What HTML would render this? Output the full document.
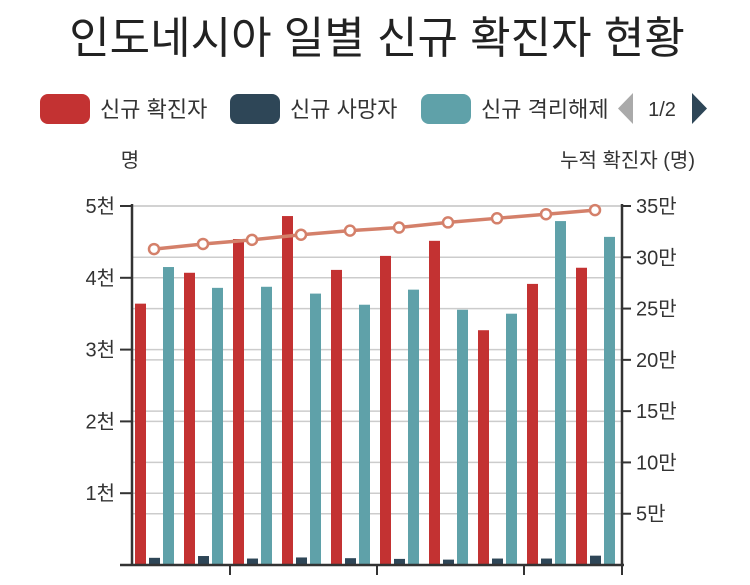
<!DOCTYPE html>
<html><head><meta charset="utf-8">
<style>
body{margin:0;background:#fff;width:750px;height:580px;overflow:hidden;font-family:"Liberation Sans","Noto Sans CJK KR",sans-serif;}
</style></head>
<body>
<svg width="750" height="580" xmlns="http://www.w3.org/2000/svg" font-family="'Liberation Sans','Noto Sans CJK KR',sans-serif">
<text x="377" y="53" text-anchor="middle" font-size="44" font-weight="400" fill="#222">인도네시아 일별 신규 확진자 현황</text>
<g>
<rect x="40" y="94" width="50" height="30" rx="8" fill="#c33232"/>
<text x="100" y="117" font-size="22" fill="#333">신규 확진자</text>
<rect x="230" y="94" width="50" height="30" rx="8" fill="#2e4657"/>
<text x="290" y="117" font-size="22" fill="#333">신규 사망자</text>
<rect x="421" y="94" width="50" height="30" rx="8" fill="#5fa1a9"/>
<svg x="0" y="0" width="614" height="200"><text x="481" y="117" font-size="22" fill="#333">신규 격리해제</text></svg>
<polygon points="633,93 633,124 618,108.5" fill="#aaa"/>
<text x="662" y="116" text-anchor="middle" font-size="20" fill="#333">1/2</text>
<polygon points="692,93 692,124 707,108.5" fill="#2e4657"/>
</g>
<text x="130" y="167" text-anchor="middle" font-size="20" fill="#333">명</text>
<text x="695" y="167" text-anchor="end" font-size="20" fill="#333">누적 확진자 (명)</text>
<g id="plot"></g>
</svg>
<script>
const categories=["d1","d2","d3","d4","d5","d6","d7","d8","d9","d10"];
const newCases=[3640,4070,4540,4860,4110,4305,4515,3270,3915,4140];
const newDeaths=[100,125,90,105,95,85,75,90,90,130];
const recovered=[4150,3860,3875,3780,3625,3835,3555,3500,4790,4570];
const cumulative=[308000,313000,317000,322000,326000,329000,334000,338000,342000,346000];
const leftTicks=[1000,2000,3000,4000,5000];
const leftTickLabels=["1천","2천","3천","4천","5천"];
const rightTicks=[50000,100000,150000,200000,250000,300000,350000];
const rightTickLabels=["5만","10만","15만","20만","25만","30만","35만"];
const NS="http://www.w3.org/2000/svg";
const X0=132,X1=622,Y0=565,Y1=206;
const gw=(X1-X0)/categories.length;
const yL=v=>Y0-(v/5000)*(Y0-Y1);
const yR=v=>Y0-(v/350000)*(Y0-Y1);
const g=document.getElementById('plot');
function mk(t,a){const e=document.createElementNS(NS,t);for(const k in a)e.setAttribute(k,a[k]);g.appendChild(e);return e;}
leftTicks.forEach((v,i)=>{
 const l=mk('line',{x1:X0,x2:X1,y1:yL(v),y2:yL(v),stroke:'#ccc','stroke-width':1.5});
 
 
 const t=mk('line',{x1:X0-12,x2:X0,y1:yL(v),y2:yL(v),stroke:'#333','stroke-width':2});
 
 
 const tx=mk('text',{x:X0-17,y:yL(v)+7,'text-anchor':'end','font-size':20,fill:'#333'});
 tx.textContent=leftTickLabels[i];
 
 
});
rightTicks.forEach((v,i)=>{
 const l=mk('line',{x1:X0,x2:X1,y1:yR(v),y2:yR(v),stroke:'#ccc','stroke-width':1.5});
 
 
 const t=mk('line',{x1:X1,x2:X1+9,y1:yR(v),y2:yR(v),stroke:'#333','stroke-width':2});
 
 
 const tx=mk('text',{x:X1+14,y:yR(v)+7,'font-size':20,fill:'#333'});
 tx.textContent=rightTickLabels[i];
 
 
});
categories.forEach((c,i)=>{
 const gx=X0+i*gw;
 const r=mk('rect',{x:gx+3,y:yL(newCases[i]),width:11,height:Y0-yL(newCases[i]),fill:'#c33232'});
 
 
 const d=mk('rect',{x:gx+17,y:yL(newDeaths[i]),width:11,height:Y0-yL(newDeaths[i]),fill:'#2e4657'});
 
 
 const t=mk('rect',{x:gx+31,y:yL(recovered[i]),width:11,height:Y0-yL(recovered[i]),fill:'#5fa1a9'});
 
 
});
const pts=cumulative.map((v,i)=>(X0+i*gw+22)+','+yR(v)).join(' ');
const pl=mk('polyline',{points:pts,fill:'none',stroke:'#d4806a','stroke-width':3.5});


cumulative.forEach((v,i)=>{
 const p=mk('circle',{cx:X0+i*gw+22,cy:yR(v),r:5,fill:'#fff',stroke:'#d4806a','stroke-width':2.5});
 
 
});
const al=mk('line',{x1:X0,x2:X0,y1:Y1-2,y2:Y0,stroke:'#333','stroke-width':2.5});


const ar=mk('line',{x1:X1,x2:X1,y1:Y1-2,y2:Y0,stroke:'#333','stroke-width':2.5});


const ax=mk('line',{x1:X0-12,x2:X1+2,y1:Y0,y2:Y0,stroke:'#333','stroke-width':2.5});


[2,5,8,10].forEach(k=>{
 const t=mk('line',{x1:X0+k*gw,x2:X0+k*gw,y1:Y0,y2:Y0+10,stroke:'#333','stroke-width':2});
 
 
});
</script>
</body></html>
